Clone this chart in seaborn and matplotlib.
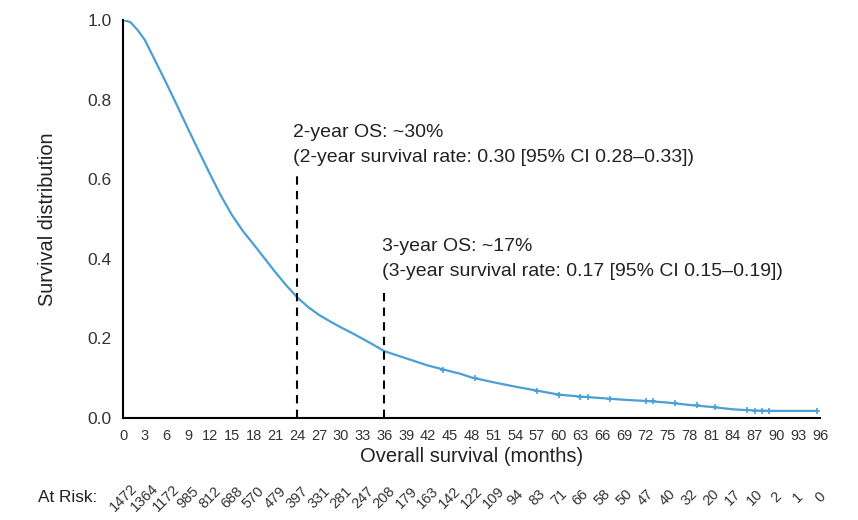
import numpy as np
import pandas as pd
import seaborn as sns
import matplotlib.pyplot as plt

# Kaplan-Meier curve (months, survival)
months = [0, 1, 2, 3, 4.5, 6, 7.5, 9, 10.5, 12, 13.5, 15, 16.5, 18, 19.5, 21, 22.5, 24,
          25.5, 27, 28.5, 30, 31.5, 33, 34.5, 36, 37.5, 39, 40.5, 42, 43.5, 45, 46.5, 48, 51,
          54, 57, 60, 63, 66, 69, 72, 75, 78, 81, 84, 87, 90, 93, 95.6]
survival = [1.0, 0.995, 0.975, 0.95, 0.895, 0.84, 0.783, 0.725, 0.668, 0.612, 0.558, 0.51,
            0.47, 0.436, 0.401, 0.366, 0.333, 0.303, 0.279, 0.259, 0.243, 0.228, 0.214, 0.199,
            0.184, 0.168, 0.159, 0.15, 0.141, 0.132, 0.125, 0.118, 0.111, 0.102, 0.09,
            0.079, 0.069, 0.059, 0.054, 0.050, 0.046, 0.043, 0.039, 0.033, 0.028, 0.022, 0.019,
            0.018, 0.018, 0.018]

# censor marks
censor_t = [44, 48.5, 57, 60, 63, 64, 67, 72, 73, 76, 79, 81.5, 86, 87, 88, 89, 95.6]
censor_s = [0.122, 0.1, 0.069, 0.059, 0.054, 0.053, 0.049, 0.043, 0.042, 0.037, 0.032, 0.027,
            0.021, 0.019, 0.018, 0.018, 0.018]

tick_months = list(range(0, 97, 3))
at_risk = [1472, 1364, 1172, 985, 812, 688, 570, 479, 397, 331, 281, 247, 208, 179, 163, 142,
           122, 109, 94, 83, 71, 66, 58, 50, 47, 40, 32, 20, 17, 10, 2, 1, 0]

df = pd.DataFrame({"month": months, "survival": survival})

sns.set_style("white")
plt.rcParams['font.family'] = ['Liberation Sans', 'DejaVu Sans']

fig = plt.figure(figsize=(8.58, 5.2), dpi=100)
ax = fig.add_axes([0.1434, 0.196, 0.8124, 0.7655])

line_col = "#4a9fd4"
sns.lineplot(data=df, x="month", y="survival", ax=ax, color=line_col, linewidth=1.6)
ax.plot(censor_t, censor_s, "+", color=line_col, markersize=4, markeredgewidth=1.2)

# landmark lines
ax.plot([24, 24], [0, 0.616], color="black", linestyle=(0, (4, 3)), linewidth=1.5)
ax.plot([36, 36], [0, 0.317], color="black", linestyle=(0, (4, 3)), linewidth=1.5)

txt = dict(fontsize=14, color="#222222", ha="left", va="baseline")
ax.text(23.4, 0.706, "2-year OS: ~30%", **txt)
ax.text(23.4, 0.643, "(2-year survival rate: 0.30 [95% CI 0.28\u20130.33])", **txt)
ax.text(35.7, 0.42, "3-year OS: ~17%", **txt)
ax.text(35.7, 0.357, "(3-year survival rate: 0.17 [95% CI 0.15\u20130.19])", **txt)

ax.set_xlim(0, 96)
ax.set_ylim(0, 1.0)
ax.set_xticks(tick_months)
ax.set_xticklabels([str(m) for m in tick_months], fontsize=10.5, color="#333333")
ax.set_yticks([0, 0.2, 0.4, 0.6, 0.8, 1.0])
ax.set_yticklabels(["0.0", "0.2", "0.4", "0.6", "0.8", "1.0"], fontsize=12.5, color="#333333")
ax.tick_params(axis="both", direction="out", length=5, width=1.3, color="black", pad=3)
ax.set_xlabel("Overall survival (months)", fontsize=14.5, color="#222222", labelpad=3)
ax.set_ylabel("Survival distribution", fontsize=14.4, color="#222222", labelpad=22)

sns.despine(ax=ax)
for side in ["left", "bottom"]:
    ax.spines[side].set_color("black")
    ax.spines[side].set_linewidth(1.5)
ax.spines["bottom"].set_bounds(0, 96)

# at risk row
trans = ax.get_xaxis_transform()
ax.text(-3.6, -0.2, "At Risk:", transform=trans, fontsize=12.4, color="#222222",
        ha="right", va="center")
for m, n in zip(tick_months, at_risk):
    ax.text(m, -0.2, str(n), transform=trans, fontsize=10.5, color="#333333",
            ha="center", va="center", rotation=45)

fig.savefig("out.png", dpi=100)
